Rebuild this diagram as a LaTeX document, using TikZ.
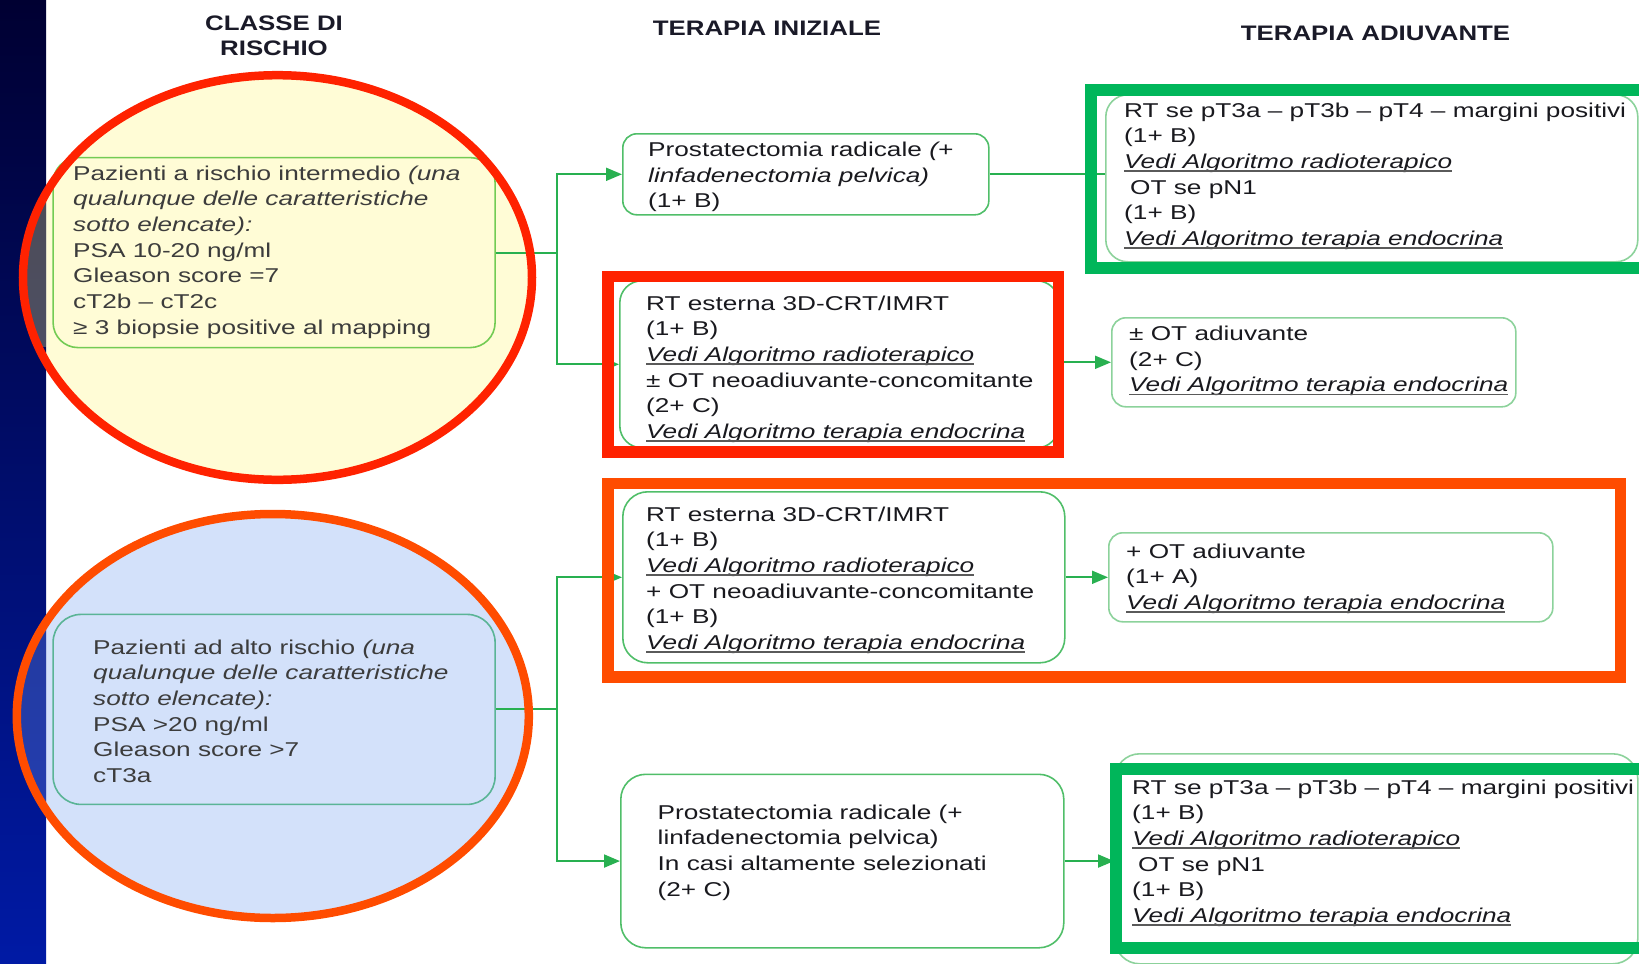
\documentclass[tikz,border=0pt]{standalone}
\usepackage{fontspec}
\usetikzlibrary{arrows.meta}
\newfontfamily\bodyfont[FakeStretch=1.31]{Liberation Sans}
\newfontfamily\headfont[FakeStretch=1.23]{Liberation Sans}

\definecolor{barTop}{RGB}{0,0,50}
\definecolor{barBot}{RGB}{0,26,165}
\definecolor{ringRed}{RGB}{255,34,0}
\definecolor{ringOrange}{RGB}{255,76,0}
\definecolor{hlGreen}{RGB}{0,182,90}
\definecolor{creamFill}{RGB}{255,252,214}
\definecolor{skyFill}{RGB}{211,225,250}
\definecolor{creamTint}{RGB}{255,240,120}
\definecolor{skyTint}{RGB}{113,152,240}
\definecolor{linkGreen}{RGB}{40,176,80}
\definecolor{edgeGreen}{RGB}{80,190,105}
\definecolor{edgeLight}{RGB}{140,210,155}
\definecolor{edgeTeal}{RGB}{90,180,150}
\definecolor{inkDark}{RGB}{25,25,30}
\definecolor{inkGray}{RGB}{60,60,60}
\definecolor{ulGray}{RGB}{90,90,90}
\definecolor{headInk}{RGB}{26,26,40}

% one line of a text block
\newcommand\rowtxt[1]{\hbox{#1}}
% italic reference, underlined in grey
\newsavebox\ulbox
\newcommand\vedi[1]{\sbox\ulbox{\itshape #1}\usebox\ulbox\llap{\color{ulGray}\rule[-3.5pt]{\wd\ulbox}{1.7pt}}}

\begin{document}
\begin{tikzpicture}[x=1pt,y=-1pt,
  txt/.style={inner sep=0pt, anchor=base west, text=inkDark,
    font=\bodyfont\fontsize{20pt}{25.7pt}\selectfont},
  softtxt/.style={txt, text=inkGray},
  head/.style={inner sep=0pt, anchor=base, text=headInk,
    font=\headfont\bfseries\fontsize{21pt}{25pt}\selectfont},
  gbox/.style={draw=edgeGreen, line width=1.6pt, inner sep=0pt,
    anchor=north west, rounded corners=#1},
  gbox/.default=22pt,
  lbox/.style={gbox=#1, draw=edgeLight},
  lbox/.default=16pt,
  link/.style={draw=linkGreen, line width=2pt},
  arrowto/.style={link, -{Triangle[length=16pt,width=13pt]}},
  ring/.style={line width=8.5pt},
  frame/.style={line width=11.5pt}]

\useasboundingbox (0,0) rectangle (1639,964);
\clip (0,0) rectangle (1639,964);

% ellipse fills
\fill[creamFill] (277.5,277.5) ellipse [x radius=254.5, y radius=202.3];
\fill[skyFill] (272.8,716) ellipse [x radius=256, y radius=202];

% side bar
\shade[top color=barTop, bottom color=barBot] (0,0) rectangle (46,964);
\begin{scope}
  \clip (277.5,277.5) ellipse [x radius=254.5, y radius=202.3];
  \fill[creamTint, fill opacity=0.3] (0,157) rectangle (46,347);
\end{scope}
\begin{scope}
  \clip (272.8,716) ellipse [x radius=256, y radius=202];
  \fill[skyTint, fill opacity=0.31] (0,614) rectangle (46,804);
\end{scope}

% boxes
\node[gbox=25pt, minimum width=442pt, minimum height=190pt, draw=edgeGreen!80!yellow] (yb) at (52.3,156.8) {};
\node[gbox=28pt, minimum width=442pt, minimum height=190pt, draw=edgeTeal] (bb) at (52.3,613.6) {};
\node[gbox=14pt, minimum width=366pt, minimum height=81pt] (pr1) at (622,133) {};
\node[gbox=22pt, minimum width=439pt, minimum height=167pt] (rt1) at (619,280) {};
\node[lbox=22pt, minimum width=532pt, minimum height=167pt] (rb1) at (1105,94) {};
\node[lbox=14pt, minimum width=404pt, minimum height=89pt] (otpm) at (1111,317) {};
\node[gbox=25pt, minimum width=442pt, minimum height=171pt] (rt2) at (622,491) {};
\node[lbox=14pt, minimum width=444pt, minimum height=89pt] (otp) at (1108,532) {};
\node[gbox=25pt, minimum width=443pt, minimum height=173.5pt] (pr2) at (620,773.5) {};
\node[lbox=25pt, minimum width=523pt, minimum height=210pt] (rb2) at (1114,753) {};

% connectors
\coordinate (j1) at (557,0);
\draw[link] (yb.east) -- (yb.east -| j1);
\draw[arrowto] (yb.east -| j1) |- (pr1.west);
\draw[arrowto] (yb.east -| j1) |- (rt1.west);
\draw[link] (pr1.east) -- (pr1.east -| rb1.west);
\draw[arrowto] (rt1.east |- otpm.west) -- (otpm.west);
\draw[link] (bb.east) -- (bb.east -| j1);
\draw[arrowto] (bb.east -| j1) |- (rt2.west);
\draw[arrowto] (bb.east -| j1) |- (pr2.west);
\draw[arrowto] (rt2.east |- otp.west) -- (otp.west);
\draw[arrowto] (pr2.east) -- (pr2.east -| rb2.west);

% ellipse outlines
\draw[ring, ringRed] (277.5,277.5) ellipse [x radius=254.5, y radius=202.3];
\draw[ring, ringOrange] (272.8,716) ellipse [x radius=256, y radius=202];

% highlight frames
\draw[frame, ringRed] (607.75,276.5) rectangle (1058.25,452);
\draw[frame, ringOrange] (607.75,483.5) rectangle (1620.7,676.9);
\draw[frame, hlGreen, line width=12pt] (1091,90) rectangle (1660,268);
\draw[frame, hlGreen] (1116,769) rectangle (1660,948);

% column headings
\node[head] (h1) at (274,30.5) {\vtop{\halign{\hfil#\hfil\cr CLASSE DI\cr RISCHIO\cr}}};
\node[head] (h2) at (767,35.7) {TERAPIA INIZIALE};
\node[head] (h3) at (1375.5,40) {TERAPIA ADIUVANTE};

% texts
\node[softtxt] (yb-t) at (73,180) {\vtop{
  \rowtxt{Pazienti a rischio intermedio \textit{(una}}
  \rowtxt{\textit{qualunque delle caratteristiche}}
  \rowtxt{\textit{sotto elencate):}}
  \rowtxt{PSA 10-20 ng/ml}
  \rowtxt{Gleason score =7}
  \rowtxt{cT2b – cT2c}
  \rowtxt{≥ 3 biopsie positive al mapping}}};

\node[softtxt] (bb-t) at (93,654) {\vtop{
  \rowtxt{Pazienti ad alto rischio \textit{(una}}
  \rowtxt{\textit{qualunque delle caratteristiche}}
  \rowtxt{\textit{sotto elencate):}}
  \rowtxt{PSA >20 ng/ml}
  \rowtxt{Gleason score >7}
  \rowtxt{cT3a}}};

\node[txt] (pr1-t) at (648,156.5) {\vtop{
  \rowtxt{Prostatectomia radicale \textit{(+}}
  \rowtxt{\textit{linfadenectomia pelvica)}}
  \rowtxt{(1+ B)}}};

\node[txt] (rt1-t) at (646,310) {\vtop{
  \rowtxt{RT esterna 3D-CRT/IMRT}
  \rowtxt{(1+ B)}
  \rowtxt{\vedi{Vedi Algoritmo radioterapico}}
  \rowtxt{± OT neoadiuvante-concomitante}
  \rowtxt{(2+ C)}
  \rowtxt{\vedi{Vedi Algoritmo terapia endocrina}}}};

\node[txt] (rb1-t) at (1124,117) {\vtop{
  \rowtxt{RT se pT3a – pT3b – pT4 – margini positivi}
  \rowtxt{(1+ B)}
  \rowtxt{\vedi{Vedi Algoritmo radioterapico}}
  \rowtxt{\hspace{6pt}OT se pN1}
  \rowtxt{(1+ B)}
  \rowtxt{\vedi{Vedi Algoritmo terapia endocrina}}}};

\node[txt] (otpm-t) at (1129,340.5) {\vtop{
  \rowtxt{± OT adiuvante}
  \rowtxt{(2+ C)}
  \rowtxt{\vedi{Vedi Algoritmo terapia endocrina}}}};

\node[txt] (rt2-t) at (646,521) {\vtop{
  \rowtxt{RT esterna 3D-CRT/IMRT}
  \rowtxt{(1+ B)}
  \rowtxt{\vedi{Vedi Algoritmo radioterapico}}
  \rowtxt{+ OT neoadiuvante-concomitante}
  \rowtxt{(1+ B)}
  \rowtxt{\vedi{Vedi Algoritmo terapia endocrina}}}};

\node[txt] (otp-t) at (1126,558) {\vtop{
  \rowtxt{+ OT adiuvante}
  \rowtxt{(1+ A)}
  \rowtxt{\vedi{Vedi Algoritmo terapia endocrina}}}};

\node[txt] (pr2-t) at (657.5,819) {\vtop{
  \rowtxt{Prostatectomia radicale (+}
  \rowtxt{linfadenectomia pelvica)}
  \rowtxt{In casi altamente selezionati}
  \rowtxt{(2+ C)}}};

\node[txt] (rb2-t) at (1132,794) {\vtop{
  \rowtxt{RT se pT3a – pT3b – pT4 – margini positivi}
  \rowtxt{(1+ B)}
  \rowtxt{\vedi{Vedi Algoritmo radioterapico}}
  \rowtxt{\hspace{6pt}OT se pN1}
  \rowtxt{(1+ B)}
  \rowtxt{\vedi{Vedi Algoritmo terapia endocrina}}}};
\end{tikzpicture}
\end{document}
